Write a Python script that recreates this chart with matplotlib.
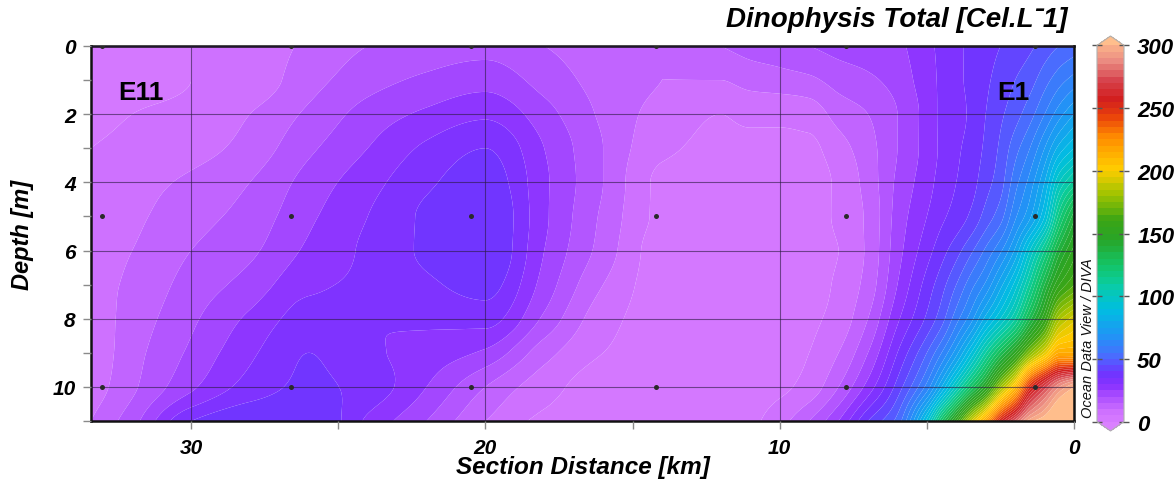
import numpy as np
import matplotlib
matplotlib.use("Agg")
import matplotlib.pyplot as plt
from matplotlib.colors import LinearSegmentedColormap, BoundaryNorm
from matplotlib.ticker import MultipleLocator

# ---------------------------------------------------------------- data
# gridded section: distance of each column (km) and depth of each row (m)
distance_km = [0, 0.5, 1, 1.5, 2, 2.5, 3, 3.5, 4, 4.5, 5, 6, 7, 8, 9, 10,
               11, 12, 14, 16, 18, 20, 22, 24, 26, 28, 30, 32, 33.4]
depth_m = [0, 1, 2, 3, 4, 5, 6, 7, 8, 9, 10, 11]

# Dinophysis total (cells per litre), one column per distance, top to bottom
cells_by_column = [
    [52, 62, 75, 90, 112, 138, 152, 165, 193, 215, 300, 320],   # 0
    [50, 58, 68, 82, 100, 118, 138, 155, 183, 215, 290, 315],   # 0.5
    [47, 53, 60, 70, 80, 90, 115, 135, 155, 195, 272, 305],     # 1
    [44, 48, 53, 60, 67, 74, 95, 112, 133, 175, 250, 298],      # 1.5
    [42, 45, 48, 53, 58, 64, 76, 92, 110, 150, 208, 278],       # 2
    [40, 42, 44, 46, 48, 53, 64, 78, 95, 130, 180, 255],        # 2.5
    [38, 39, 40, 41, 43, 47, 56, 66, 82, 110, 148, 218],        # 3
    [36, 36, 36, 37, 38, 41, 49, 58, 68, 90, 125, 190],         # 3.5
    [34, 34, 33, 34, 35, 37, 43, 50, 58, 73, 102, 155],         # 4
    [31, 31, 31, 31, 32, 34, 38, 43, 48, 60, 80, 125],          # 4.5
    [29, 28, 27, 27, 28, 30, 33, 37, 41, 50, 62, 92],           # 5
    [24, 22, 20, 20, 21, 22, 23, 25, 29, 35, 42, 52],           # 6
    [23, 19, 15, 13, 12, 11, 11, 12, 15, 20, 27, 40],           # 7
    [22, 17, 12, 8, 6, 6, 5, 6, 7, 10, 15, 25],                 # 8
    [20, 14, 7, 4, 3, 3, 3, 3, 4, 5, 7, 15],                    # 9
    [18, 13, 6, 4, 3, 3, 3, 3, 3, 3, 4, 8],                     # 10
    [17, 12, 6, 4, 3, 3, 3, 3, 3, 3, 3, 4],                     # 11
    [15, 10, 5, 4, 3, 3, 3, 3, 3, 3, 3, 3],                     # 12
    [10, 10, 8, 6, 4, 4, 3, 3, 3, 3, 3, 3],                     # 14
    [12, 13, 14, 15, 15, 14, 13, 10, 7, 5, 3, 3],               # 16
    [15, 18, 22, 25, 26, 26, 25, 23, 19, 12, 7, 4],             # 18
    [18, 23, 29, 35, 38, 40, 40, 37, 32, 24, 15, 10],           # 20
    [17, 21, 26, 31, 34, 36, 36, 34, 31, 28, 25, 20],           # 22
    [15, 18, 22, 25, 28, 30, 31, 31, 30, 31, 33, 29],           # 24
    [11, 13, 16, 19, 22, 24, 26, 29, 32, 35, 36, 40],           # 26
    [7, 7, 10, 12, 15, 17, 19, 22, 26, 29, 32, 40],             # 28
    [5, 5, 6, 8, 11, 13, 15, 17, 19, 21, 24, 35],               # 30
    [4, 4, 5, 6, 8, 9, 10, 11, 12, 13, 14, 18],                 # 32
    [3, 3, 4, 5, 6, 7, 8, 8, 7, 6, 7, 10],                      # 33.4
]

# sampling stations (km along the section) and sampled depths (m)
station_km = [33.04, 26.6, 20.5, 14.2, 7.74, 1.32]
sample_depth_m = [0, 5, 10]
station_names = ["E11", "E1"]
station_label_km = [31.7, 2.05]

cbar_ticks = [0, 50, 100, 150, 200, 250, 300]
x_ticks = [30, 20, 10, 0]
y_ticks = [0, 2, 4, 6, 8, 10]

# ---------------------------------------------------------------- style
FONT = ["Liberation Sans", "DejaVu Sans"]


def rgb(r, g, b):
    return (r / 255, g / 255, b / 255)


odv = LinearSegmentedColormap.from_list("odv", [
    (0 / 300, rgb(218, 128, 255)),
    (10 / 300, rgb(205, 112, 255)),
    (20 / 300, rgb(176, 82, 255)),
    (30 / 300, rgb(140, 52, 255)),
    (38 / 300, rgb(115, 50, 255)),
    (45 / 300, rgb(95, 74, 255)),
    (52 / 300, rgb(76, 106, 255)),
    (70 / 300, rgb(30, 150, 245)),
    (90 / 300, rgb(0, 190, 225)),
    (110 / 300, rgb(10, 205, 160)),
    (125 / 300, rgb(20, 195, 100)),
    (145 / 300, rgb(40, 165, 40)),
    (160 / 300, rgb(60, 165, 20)),
    (180 / 300, rgb(160, 195, 0)),
    (200 / 300, rgb(255, 205, 0)),
    (225 / 300, rgb(255, 140, 0)),
    (240 / 300, rgb(235, 70, 10)),
    (255 / 300, rgb(210, 30, 30)),
    (270 / 300, rgb(215, 70, 80)),
    (285 / 300, rgb(235, 140, 130)),
    (300 / 300, rgb(255, 190, 140)),
], N=256)
odv.set_under(rgb(218, 128, 255))
odv.set_over(rgb(255, 190, 140))


# ---------------------------------------------------------------- field
def pchip(x, y, xq):
    """Monotone piecewise-cubic Hermite interpolation."""
    h = np.diff(x)
    m = np.diff(y) / h
    d = np.zeros_like(y)
    for k in range(1, len(x) - 1):
        if m[k - 1] * m[k] > 0:
            w1 = 2 * h[k] + h[k - 1]
            w2 = h[k] + 2 * h[k - 1]
            d[k] = (w1 + w2) / (w1 / m[k - 1] + w2 / m[k])
    d[0], d[-1] = m[0], m[-1]
    k = np.clip(np.searchsorted(x, xq) - 1, 0, len(x) - 2)
    hk = h[k]
    t = (xq - x[k]) / hk
    return ((2 * t**3 - 3 * t**2 + 1) * y[k] + (t**3 - 2 * t**2 + t) * hk * d[k]
            + (-2 * t**3 + 3 * t**2) * y[k + 1] + (t**3 - t**2) * hk * d[k + 1])


dist = np.array(distance_km, dtype=float)
dep = np.array(depth_m, dtype=float)
vals = np.array(cells_by_column, dtype=float).T          # rows = depth

xf = np.linspace(0, 33.4, 900)
yf = np.linspace(0, 11, 330)
tmp = np.array([pchip(dep, vals[:, j], yf) for j in range(len(dist))]).T
field = np.array([pchip(dist, row, xf) for row in tmp])

# ---------------------------------------------------------------- figure
fig = plt.figure(figsize=(11.76, 4.85), dpi=100)
ax = fig.add_axes([91 / 1176, 1 - 422 / 485, 983 / 1176, 375 / 485])

levels = np.arange(0, 301, 5)
norm = BoundaryNorm(levels, odv.N, extend="both")
cf = ax.contourf(xf, yf, field, levels=levels, cmap=odv, norm=norm,
                 extend="both", antialiased=True)

for s in station_km:
    ax.plot([s] * len(sample_depth_m), sample_depth_m, "o", ms=3.6,
            color="#2a2a2a", mec="none", zorder=5, clip_on=True)

ax.set_xlim(33.4, 0)
ax.set_ylim(11, 0)
ax.set_xticks(x_ticks)
ax.set_yticks(y_ticks)
ax.xaxis.set_minor_locator(MultipleLocator(5))
ax.yaxis.set_minor_locator(MultipleLocator(1))
ax.grid(True, which="major", color="#2a1a40", alpha=0.6, lw=0.8)
ax.set_axisbelow(False)
ax.tick_params(which="both", direction="out", length=6, width=1,
               color="#8a8a8a", pad=5)
ax.tick_params(axis="x", which="both", pad=6)
for sp in ax.spines.values():
    sp.set_linewidth(1.8)
    sp.set_color("#111111")

for lab in ax.get_xticklabels() + ax.get_yticklabels():
    lab.set_fontfamily(FONT)
    lab.set_fontsize(15)
    lab.set_fontweight("bold")
    lab.set_fontstyle("italic")

ax.set_xlabel("Section Distance [km]", family=FONT, fontsize=17.5,
              fontweight="bold", style="italic", va="center")
ax.xaxis.set_label_coords(0.5, -(468 - 422) / 375)
ax.set_ylabel("Depth [m]", family=FONT, fontsize=17,
              fontweight="bold", style="italic", va="center")
ax.yaxis.set_label_coords(-(91 - 22) / 983, 0.5)

for name, km in zip(station_names, station_label_km):
    ax.text(km, 1.35, name, ha="center", va="center", family=FONT,
            fontsize=19, fontweight="bold", color="black", zorder=6)

# colour bar
cax = fig.add_axes([1097 / 1176, 1 - 432 / 485, 27 / 1176, 395 / 485])
cb = fig.colorbar(cf, cax=cax, ticks=cbar_ticks, extendfrac=0.025,
                  extendrect=False, drawedges=False)
cb.outline.set_edgecolor("#b0b0b0")
cb.outline.set_linewidth(0.8)
cax.tick_params(which="both", left=True, right=True, direction="inout",
                length=7, width=1, color="#555555", pad=6)
cax.minorticks_off()
for lab in cax.get_yticklabels():
    lab.set_fontfamily(FONT)
    lab.set_fontsize(16)
    lab.set_fontweight("bold")
    lab.set_fontstyle("italic")

fig.text(1088 / 1176, 1 - 418 / 485, "Ocean Data View / DIVA", rotation=90,
         ha="center", va="bottom", family=FONT, fontsize=10.5,
         style="italic", color="#111111")

fig.text(1068 / 1176, 1 - 20 / 485, "Dinophysis Total [Cel.L\u02c91]",
         ha="right", va="center", family=FONT, fontsize=20,
         fontweight="bold", style="italic")

fig.savefig("out.png", dpi=100)
